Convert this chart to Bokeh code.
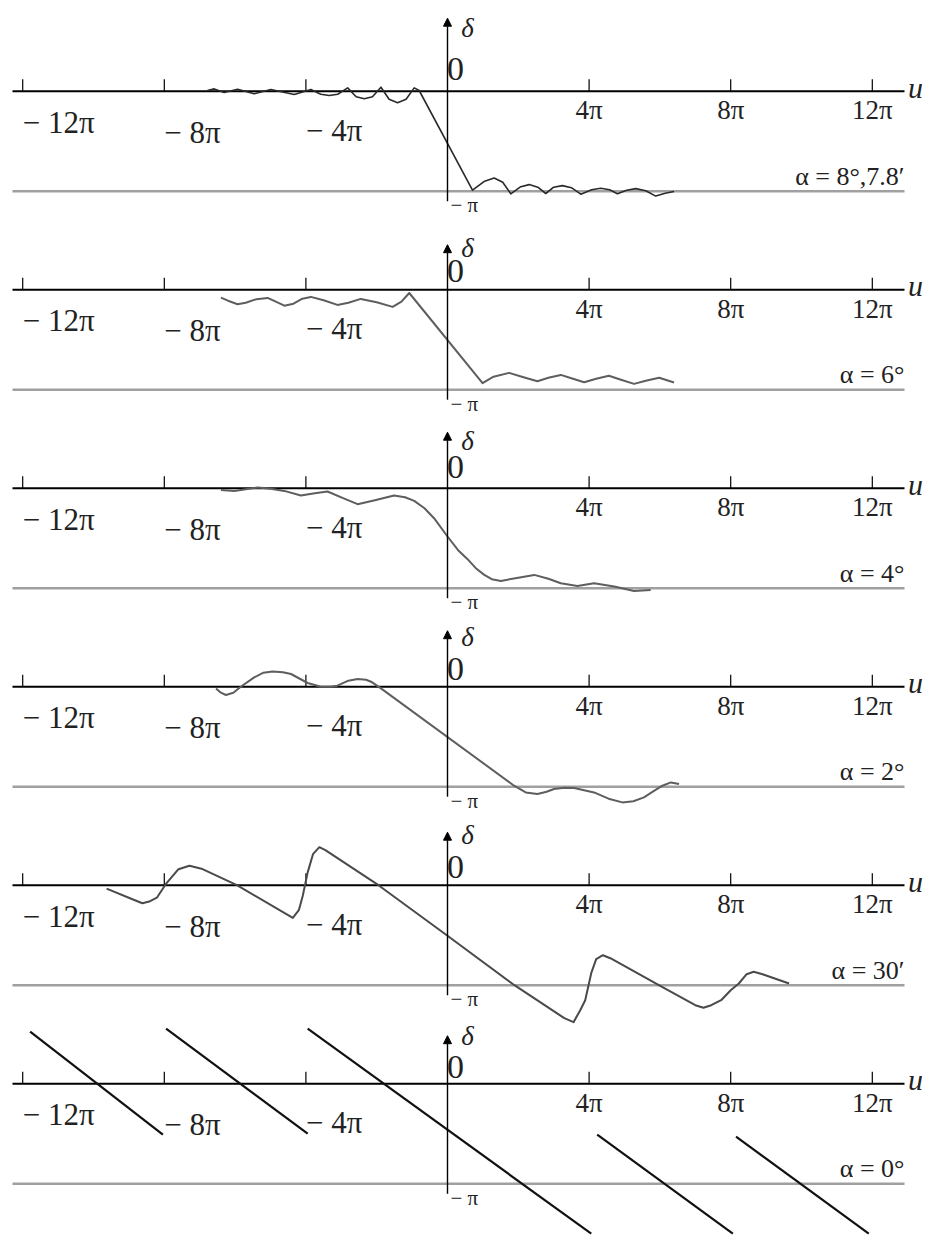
from bokeh.plotting import figure
from bokeh.models import ColumnDataSource, Range1d, Arrow, NormalHead
from bokeh.core.properties import value
from bokeh.embed import file_html
from bokeh.resources import INLINE

# ---- data: u and delta are both in units of pi ----
U_TICKS = [-12, -8, -4, 4, 8, 12]
U_TICK_LABELS = ["− 12π", "− 8π", "− 4π", "4π", "8π", "12π"]
ALPHA_LABELS = ["α = 8°,7.8′", "α = 6°", "α = 4°", "α = 2°", "α = 30′", "α = 0°"]

u_a8 = [-6.78, -6.59, -6.31, -5.93, -5.46, -4.99, -4.33, -3.86, -3.58, -3.34, -3.10,
        -2.82, -2.58, -2.35, -2.12, -1.88, -1.65, -1.41, -1.17, -0.94, -0.80,
        0.706, 1.05, 1.318, 1.56, 1.788, 2.07, 2.306, 2.55, 2.776, 3.00, 3.247, 3.50,
        3.765, 4.07, 4.329, 4.58, 4.800, 5.06, 5.318, 5.60, 5.882, 6.15, 6.400]
d_a8 = [0.007, 0.023, -0.013, 0.020, -0.026, 0.017, -0.033, 0.017, -0.030, -0.043, -0.030,
        0.033, -0.055, -0.076, -0.055, 0.040, -0.080, -0.116, -0.080, 0.033, 0.007,
        -0.990, -0.900, -0.868, -0.910, -1.026, -0.955, -0.934, -0.960, -1.023, -0.960,
        -0.944, -0.965, -1.030, -0.985, -0.970, -0.985, -1.026, -0.990, -0.974, -0.995,
        -1.049, -1.020, -1.003]

u_a6 = [-6.40, -6.20, -5.93, -5.70, -5.40, -5.08, -4.85, -4.61, -4.35, -4.10, -3.86,
        -3.50, -3.11, -2.80, -2.45, -2.00, -1.55, -1.30, -1.08,
        0.99, 1.30, 1.74, 2.10, 2.54, 2.85, 3.20, 3.50, 3.86, 4.20, 4.56, 4.90, 5.27,
        5.60, 5.98, 6.40]
d_a6 = [-0.080, -0.110, -0.145, -0.130, -0.095, -0.082, -0.120, -0.160, -0.140, -0.090,
        -0.072, -0.105, -0.152, -0.130, -0.092, -0.125, -0.172, -0.120, -0.033,
        -0.934, -0.870, -0.832, -0.870, -0.916, -0.880, -0.852, -0.885, -0.926, -0.890,
        -0.860, -0.900, -0.942, -0.910, -0.880, -0.928]

u_a4 = [-6.40, -6.02, -5.70, -5.36, -5.00, -4.61, -4.14, -3.75, -3.39, -2.95, -2.54,
        -2.05, -1.51, -1.20, -0.94, -0.65, -0.38, 0.0, 0.30, 0.56, 0.80, 1.04, 1.25,
        1.51, 2.00, 2.45, 2.85, 3.20, 3.67, 4.14, 4.71, 5.27, 5.74]
d_a4 = [-0.017, -0.027, -0.010, 0.007, -0.005, -0.027, -0.073, -0.050, -0.033, -0.100,
        -0.160, -0.120, -0.073, -0.090, -0.127, -0.200, -0.300, -0.483, -0.620, -0.707,
        -0.800, -0.867, -0.910, -0.927, -0.895, -0.867, -0.905, -0.950, -0.977, -0.950,
        -0.983, -1.027, -1.017]

u_a2 = [-6.54, -6.40, -6.26, -6.05, -5.84, -5.46, -5.20, -4.94, -4.65, -4.42, -3.95,
        -3.58, -3.30, -3.11, -2.80, -2.54, -2.30, -2.16, -1.88,
        1.88, 2.21, 2.54, 2.80, 3.01, 3.30, 3.58, 4.14, 4.55, 4.94, 5.25, 5.55, 5.80,
        6.07, 6.31, 6.54]
d_a2 = [-0.017, -0.060, -0.083, -0.060, 0.0, 0.093, 0.140, 0.153, 0.145, 0.127, 0.037,
        0.0, 0.0, 0.010, 0.060, 0.077, 0.070, 0.050, -0.017,
        -0.990, -1.057, -1.073, -1.050, -1.023, -1.010, -1.013, -1.057, -1.120, -1.157,
        -1.145, -1.107, -1.050, -0.990, -0.957, -0.973]

u_a30 = [-9.63, -8.90, -8.62, -8.40, -8.21, -7.96, -7.60, -7.29, -6.95, -5.95, -4.37,
         -4.20, -4.09, -3.95, -3.80, -3.62, -3.45, -1.95, 0.0, 1.89, 3.30, 3.56, 3.75,
         3.89, 4.06, 4.20, 4.39, 4.60, 6.06, 7.00, 7.23, 7.45, 7.73, 8.00, 8.23, 8.45,
         8.65, 8.90, 9.65]
d_a30 = [-0.034, -0.140, -0.180, -0.160, -0.125, 0.010, 0.160, 0.195, 0.165, 0.0, -0.327,
         -0.250, -0.108, 0.128, 0.310, 0.380, 0.350, 0.0, -0.505, -1.0, -1.330, -1.370,
         -1.250, -1.150, -0.880, -0.740, -0.700, -0.730, -1.017, -1.200, -1.226, -1.200,
         -1.150, -1.050, -0.983, -0.890, -0.865, -0.890, -0.983]

# alpha = 0: separate straight branches
u0_start = [-11.79, -7.95, -3.95, 4.23, 8.15]
d0_start = [0.52, 0.55, 0.55, -0.51, -0.53]
u0_end = [-8.04, -3.95, 4.06, 8.06, 11.90]
d0_end = [-0.51, -0.50, -1.50, -1.50, -1.50]

# ---- layout (pixel scale: 35.4 px per pi along u, 100 px per pi along delta) ----
W, H = 926, 1237
PX_U = 35.4
PX_D = 100.0
U0_PX = 447
STEP = 1.985            # vertical distance between stacked panels
TOP = 0.907             # space above the first u-axis


def du(px):
    return px / PX_U


def dd(px):
    return px / PX_D


p = figure(width=W, height=H, output_backend="svg", toolbar_location=None,
           x_axis_type=None, y_axis_type=None, min_border=0,
           x_range=Range1d(-U0_PX / PX_U, (W - U0_PX) / PX_U),
           y_range=Range1d(TOP - H / PX_D, TOP))
p.grid.visible = False
p.outline_line_color = None
p.background_fill_color = "white"
p.border_fill_color = "white"

FONT = value("Liberation Serif")
INK = "#222222"

arrow_top = [73, 45, 56, 56, 53, 48]
delta_lab = [63, 42, 47, 50, 50, 48]
zero_lab = [22, 19, 21, 18, 18, 17]
neg_lab_drop = [31, 41, 39]

u_left, u_right = du(12 - U0_PX), du(904 - U0_PX)

for k in range(6):
    y0 = -k * STEP
    y_pi = y0 - 1.0

    # reference line at delta = -pi
    p.line([u_left, u_right], [y_pi, y_pi], line_color="#a0a0a0", line_width=2.5)
    # u-axis with ticks
    p.line([u_left, u_right], [y0, y0], line_color="black", line_width=2)
    p.segment(x0=U_TICKS, y0=[y0] * len(U_TICKS), x1=U_TICKS,
              y1=[y0 + dd(12)] * len(U_TICKS), line_color="black", line_width=1.2)
    # delta axis with arrow
    p.add_layout(Arrow(end=NormalHead(size=8, fill_color="black", line_color="black"),
                       x_start=0, y_start=y0 - dd(110), x_end=0, y_end=y0 + dd(arrow_top[k]),
                       line_color="black", line_width=1.4))

    # tick labels
    neg = ColumnDataSource(dict(x=U_TICKS[:3],
                                y=[y0 - dd(v) for v in neg_lab_drop],
                                t=U_TICK_LABELS[:3]))
    p.text(x="x", y="y", text="t", source=neg, text_font=FONT, text_font_size="31px",
           text_align="left", text_baseline="middle", text_color=INK)
    pos = ColumnDataSource(dict(x=U_TICKS[3:],
                                y=[y0 - dd(19)] * 3,
                                t=U_TICK_LABELS[3:]))
    p.text(x="x", y="y", text="t", source=pos, text_font=FONT, text_font_size="27px",
           text_align="center", text_baseline="middle", text_color=INK)

    # axis names and markers
    p.text(x=[du(915 - U0_PX)], y=[y0 + dd(4)], text=["u"], text_font=FONT,
           text_font_size="30px", text_font_style="italic", text_align="center",
           text_baseline="middle", text_color=INK)
    p.text(x=[du(467 - U0_PX)], y=[y0 + dd(delta_lab[k])], text=["δ"], text_font=FONT,
           text_font_size="27px", text_font_style="italic", text_align="center",
           text_baseline="middle", text_color=INK)
    p.text(x=[du(455 - U0_PX)], y=[y0 + dd(zero_lab[k])], text=["0"], text_font=FONT,
           text_font_size="34px", text_align="center", text_baseline="middle",
           text_color=INK)
    p.text(x=[du(450 - U0_PX)], y=[y_pi - dd(14)], text=["− π"], text_font=FONT,
           text_font_size="21px", text_align="left", text_baseline="middle",
           text_color=INK)
    p.text(x=[du(904 - U0_PX)], y=[y_pi + dd(15)], text=[ALPHA_LABELS[k]], text_font=FONT,
           text_font_size="26px", text_align="right", text_baseline="middle",
           text_color=INK)

# curves
curves = [(u_a8, d_a8, "#2a2a2a", 1.6), (u_a6, d_a6, "#5e5e5e", 2.0),
          (u_a4, d_a4, "#5e5e5e", 2.0), (u_a2, d_a2, "#5e5e5e", 2.0),
          (u_a30, d_a30, "#4a4a4a", 2.0)]
for k, (u, d, col, lw) in enumerate(curves):
    off = -k * STEP
    p.line(u, [v + off for v in d], line_color=col, line_width=lw, line_join="round")

off6 = -5 * STEP
p.segment(x0=u0_start, y0=[v + off6 for v in d0_start], x1=u0_end,
          y1=[v + off6 for v in d0_end], line_color="#111111", line_width=2.2)

open("out.html", "w").write(file_html(p, INLINE))
